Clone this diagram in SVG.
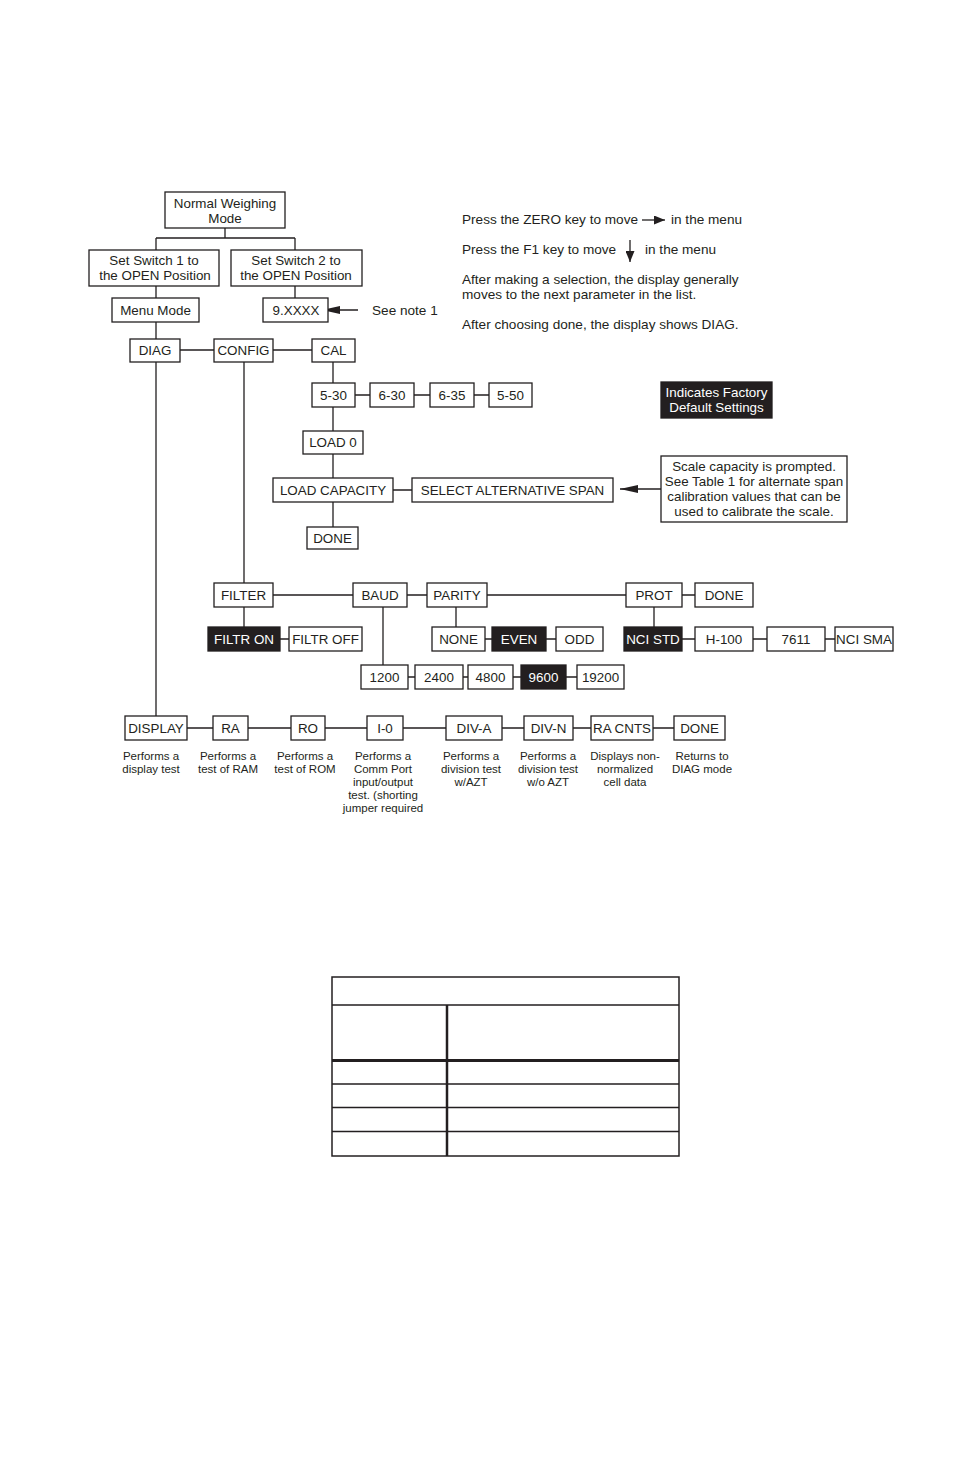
<svg xmlns="http://www.w3.org/2000/svg" width="954" height="1474" viewBox="0 0 954 1474">
<defs>
<marker id="ahBig" markerWidth="18" markerHeight="8" refX="18" refY="4" orient="auto" markerUnits="userSpaceOnUse"><path d="M0,0 L18,4 L0,8 z" fill="#231f20"/></marker>
<marker id="ahSmall" markerWidth="11" markerHeight="9" refX="11" refY="4.5" orient="auto" markerUnits="userSpaceOnUse"><path d="M0,0 L11,4.5 L0,9 z" fill="#231f20"/></marker>
</defs>
<style>
.b{fill:#fff;stroke:#231f20;stroke-width:1.3}
.k{fill:#231f20;stroke:#231f20;stroke-width:1.3}
.t{font-family:"Liberation Sans",Arial,sans-serif;font-size:13.4px;fill:#231f20;text-anchor:middle}
.w{font-family:"Liberation Sans",Arial,sans-serif;font-size:13.4px;fill:#fff;text-anchor:middle}
.l{font-family:"Liberation Sans",Arial,sans-serif;font-size:13.6px;fill:#231f20}
.d{font-family:"Liberation Sans",Arial,sans-serif;font-size:11.5px;fill:#231f20;text-anchor:middle}
.c{fill:none;stroke:#231f20;stroke-width:1.3}
.tb{fill:none;stroke:#231f20;stroke-width:1.5}
</style>
<rect width="954" height="1474" fill="#fff"/>

<g id="connectors" class="c">
<path d="M225,228V238M156,238H295M156,238V250M295,238V250"/>
<path d="M156,286V298M295,286V298M156,322V339"/>
<path d="M358,310H322" marker-end="url(#ahBig)"/>
<path d="M180,350H214M273,350H312"/>
<path d="M156,362V716M244,362V583M333,362V383"/>
<path d="M355,395H370M414,395H430M474,395H489"/>
<path d="M333,407V431M333,454V478M333,502V527M393,490H412"/>
<path d="M661,489H620" marker-end="url(#ahBig)"/>
<path d="M273,595H353M407,595H427M487,595H626M682,595H695"/>
<path d="M244,607V627M280,639H289"/>
<path d="M383,607V665"/>
<path d="M456,607V627M485,639H492M546,639H556"/>
<path d="M654,607V627M682,639H695M753,639H767M825,639H835"/>
<path d="M408,677H415M463,677H468M513,677H521M566,677H577"/>
<path d="M187,728H213M248,728H291M325,728H367M403,728H446M502,728H524M573,728H591M653,728H674"/>
<path d="M642,220H665" marker-end="url(#ahSmall)"/>
<path d="M630,240V262" marker-end="url(#ahSmall)"/>
</g>

<g id="nwm"><rect class="b" x="165" y="192" width="120" height="36"/><text class="t" x="225" y="207.5">Normal Weighing</text><text class="t" x="225" y="222.5">Mode</text></g>
<g id="sw1"><rect class="b" x="89" y="250" width="130" height="36"/><text class="t" x="154" y="264.5">Set Switch 1 to</text><text class="t" x="155" y="279.5">the OPEN Position</text></g>
<g id="sw2"><rect class="b" x="231" y="250" width="131" height="36"/><text class="t" x="296" y="264.5">Set Switch 2 to</text><text class="t" x="296" y="279.5">the OPEN Position</text></g>
<g id="menu"><rect class="b" x="112" y="298" width="87" height="24"/><text class="t" x="155.5" y="314.5">Menu Mode</text></g>
<g id="x9"><rect class="b" x="263" y="298" width="65" height="24"/><text class="t" x="296" y="314.5">9.XXXX</text></g>
<text class="l" x="372" y="314.5">See note 1</text>

<g id="instructions">
<text class="l" x="462" y="223.5">Press the ZERO key to move</text>
<text class="l" x="671" y="223.5">in the menu</text>
<text class="l" x="462" y="253.5">Press the F1 key to move</text>
<text class="l" x="645" y="253.5">in the menu</text>
<text class="l" x="462" y="284">After making a selection, the display generally</text>
<text class="l" x="462" y="299">moves to the next parameter in the list.</text>
<text class="l" x="462" y="329">After choosing done, the display shows DIAG.</text>
</g>

<g id="diag"><rect class="b" x="130" y="339" width="50" height="23"/><text class="t" x="155" y="355">DIAG</text></g>
<g id="config"><rect class="b" x="214" y="339" width="59" height="23"/><text class="t" x="243.5" y="355">CONFIG</text></g>
<g id="cal"><rect class="b" x="312" y="339" width="43" height="23"/><text class="t" x="333.5" y="355">CAL</text></g>
<g id="s530"><rect class="b" x="312" y="383" width="43" height="24"/><text class="t" x="333.5" y="399.5">5-30</text></g>
<g id="s630"><rect class="b" x="370" y="383" width="44" height="24"/><text class="t" x="392" y="399.5">6-30</text></g>
<g id="s635"><rect class="b" x="430" y="383" width="44" height="24"/><text class="t" x="452" y="399.5">6-35</text></g>
<g id="s550"><rect class="b" x="489" y="383" width="43" height="24"/><text class="t" x="510.5" y="399.5">5-50</text></g>
<g id="load0"><rect class="b" x="303" y="431" width="60" height="23"/><text class="t" x="333" y="447">LOAD 0</text></g>
<g id="loadcap"><rect class="b" x="273" y="478" width="120" height="24"/><text class="t" x="333" y="494.5">LOAD CAPACITY</text></g>
<g id="select"><rect class="b" x="412" y="478" width="201" height="24"/><text class="t" x="512.5" y="494.5">SELECT ALTERNATIVE SPAN</text></g>
<g id="done1"><rect class="b" x="307" y="527" width="51" height="22"/><text class="t" x="332.5" y="542.5">DONE</text></g>

<g id="factory"><rect class="k" x="661" y="382" width="111" height="36"/><text class="w" x="716.5" y="396.5">Indicates Factory</text><text class="w" x="716.5" y="411.5">Default Settings</text></g>
<g id="note"><rect class="b" x="661" y="456" width="186" height="66"/>
<text class="t" x="754" y="470.5">Scale capacity is prompted.</text>
<text class="t" x="754" y="485.5">See Table 1 for alternate span</text>
<text class="t" x="754" y="500.5">calibration values that can be</text>
<text class="t" x="754" y="515.5">used to calibrate the scale.</text></g>

<g id="filter"><rect class="b" x="214" y="583" width="59" height="24"/><text class="t" x="243.5" y="599.5">FILTER</text></g>
<g id="baud"><rect class="b" x="353" y="583" width="54" height="24"/><text class="t" x="380" y="599.5">BAUD</text></g>
<g id="parity"><rect class="b" x="427" y="583" width="60" height="24"/><text class="t" x="457" y="599.5">PARITY</text></g>
<g id="prot"><rect class="b" x="626" y="583" width="56" height="24"/><text class="t" x="654" y="599.5">PROT</text></g>
<g id="done2"><rect class="b" x="695" y="583" width="58" height="24"/><text class="t" x="724" y="599.5">DONE</text></g>

<g id="filtron"><rect class="k" x="208" y="627" width="72" height="24"/><text class="w" x="244" y="643.5">FILTR ON</text></g>
<g id="filtroff"><rect class="b" x="289" y="627" width="73" height="24"/><text class="t" x="325.5" y="643.5">FILTR OFF</text></g>
<g id="none"><rect class="b" x="432" y="627" width="53" height="24"/><text class="t" x="458.5" y="643.5">NONE</text></g>
<g id="even"><rect class="k" x="492" y="627" width="54" height="24"/><text class="w" x="519" y="643.5">EVEN</text></g>
<g id="odd"><rect class="b" x="556" y="627" width="47" height="24"/><text class="t" x="579.5" y="643.5">ODD</text></g>
<g id="ncistd"><rect class="k" x="624" y="627" width="58" height="24"/><text class="w" x="653" y="643.5">NCI STD</text></g>
<g id="h100"><rect class="b" x="695" y="627" width="58" height="24"/><text class="t" x="724" y="643.5">H-100</text></g>
<g id="n7611"><rect class="b" x="767" y="627" width="58" height="24"/><text class="t" x="796" y="643.5">7611</text></g>
<g id="ncisma"><rect class="b" x="835" y="627" width="58" height="24"/><text class="t" x="864" y="643.5">NCI SMA</text></g>

<g id="b1200"><rect class="b" x="361" y="665" width="47" height="24"/><text class="t" x="384.5" y="681.5">1200</text></g>
<g id="b2400"><rect class="b" x="415" y="665" width="48" height="24"/><text class="t" x="439" y="681.5">2400</text></g>
<g id="b4800"><rect class="b" x="468" y="665" width="45" height="24"/><text class="t" x="490.5" y="681.5">4800</text></g>
<g id="b9600"><rect class="k" x="521" y="665" width="45" height="24"/><text class="w" x="543.5" y="681.5">9600</text></g>
<g id="b19200"><rect class="b" x="577" y="665" width="47" height="24"/><text class="t" x="600.5" y="681.5">19200</text></g>

<g id="display"><rect class="b" x="125" y="716" width="62" height="24"/><text class="t" x="156" y="732.5">DISPLAY</text>
<text class="d" x="151" y="760">Performs a</text><text class="d" x="151" y="773">display test</text></g>
<g id="ra"><rect class="b" x="213" y="716" width="35" height="24"/><text class="t" x="230.5" y="732.5">RA</text>
<text class="d" x="228" y="760">Performs a</text><text class="d" x="228" y="773">test of RAM</text></g>
<g id="ro"><rect class="b" x="291" y="716" width="34" height="24"/><text class="t" x="308" y="732.5">RO</text>
<text class="d" x="305" y="760">Performs a</text><text class="d" x="305" y="773">test of ROM</text></g>
<g id="io"><rect class="b" x="367" y="716" width="36" height="24"/><text class="t" x="385" y="732.5">I-0</text>
<text class="d" x="383" y="760">Performs a</text><text class="d" x="383" y="773">Comm Port</text><text class="d" x="383" y="786">input/output</text><text class="d" x="383" y="799">test. (shorting</text><text class="d" x="383" y="812">jumper required</text></g>
<g id="diva"><rect class="b" x="446" y="716" width="56" height="24"/><text class="t" x="474" y="732.5">DIV-A</text>
<text class="d" x="471" y="760">Performs a</text><text class="d" x="471" y="773">division test</text><text class="d" x="471" y="786">w/AZT</text></g>
<g id="divn"><rect class="b" x="524" y="716" width="49" height="24"/><text class="t" x="548.5" y="732.5">DIV-N</text>
<text class="d" x="548" y="760">Performs a</text><text class="d" x="548" y="773">division test</text><text class="d" x="548" y="786">w/o AZT</text></g>
<g id="racnts"><rect class="b" x="591" y="716" width="62" height="24"/><text class="t" x="622" y="732.5">RA CNTS</text>
<text class="d" x="625" y="760">Displays non-</text><text class="d" x="625" y="773">normalized</text><text class="d" x="625" y="786">cell data</text></g>
<g id="done3"><rect class="b" x="674" y="716" width="51" height="24"/><text class="t" x="699.5" y="732.5">DONE</text>
<text class="d" x="702" y="760">Returns to</text><text class="d" x="702" y="773">DIAG mode</text></g>

<g id="table">
<rect class="tb" x="332" y="977" width="347" height="179"/>
<path class="tb" d="M332,1005H679M332,1084H679M332,1107.5H679M332,1131.5H679"/>
<path d="M332,1060.5H679" stroke="#231f20" stroke-width="3" fill="none"/>
<path d="M447,1005V1156" stroke="#231f20" stroke-width="2.5" fill="none"/>
</g>
</svg>
